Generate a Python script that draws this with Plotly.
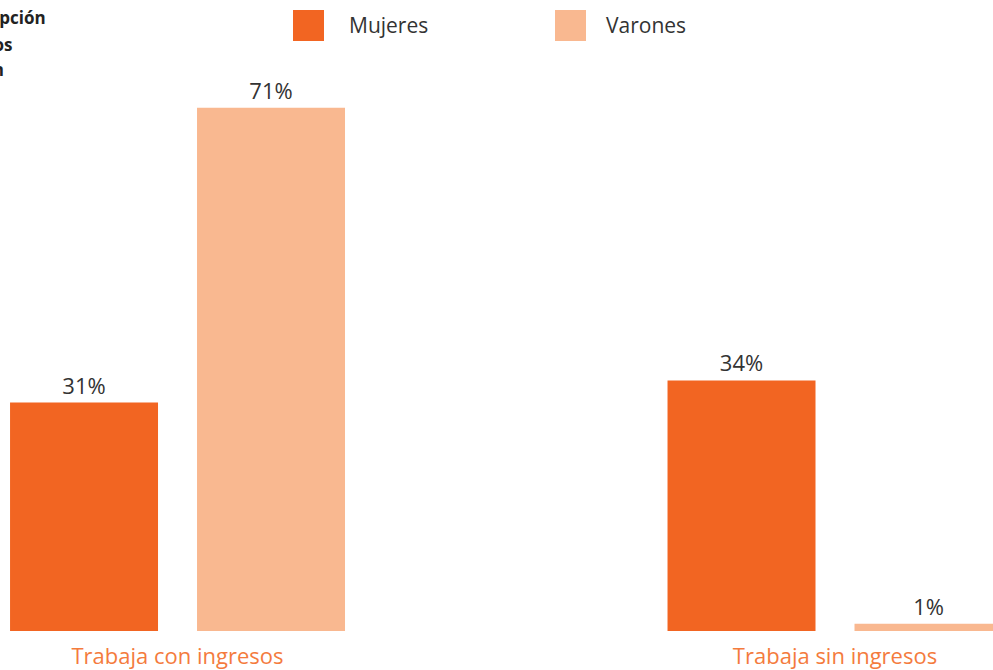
import plotly.graph_objects as go

categories = ["Trabaja con ingresos", "Trabaja sin ingresos"]
mujeres = [31, 34]
varones = [71, 1]
series_names = ["Mujeres", "Varones"]
title_lines = ["Percepción", "de ingresos", "según condición"]

C_MUJ = "#F26522"
C_VAR = "#F9B890"
W, H = 993, 670
MT, MB = 0, 39
PH = H - MT - MB

fig = go.Figure()
for name, vals, col in [(series_names[0], mujeres, C_MUJ), (series_names[1], varones, C_VAR)]:
    fig.add_trace(go.Bar(
        x=categories, y=vals, name=name, marker=dict(color=col, line=dict(width=0)),
        text=[f"{v}%" for v in vals], textposition="outside",
        textfont=dict(family="Open Sans", size=22, color="#333333"),
        cliponaxis=False, showlegend=False,
    ))

fig.update_layout(
    width=W, height=H,
    margin=dict(l=0, r=0, t=MT, b=MB, pad=0),
    paper_bgcolor="white", plot_bgcolor="white",
    barmode="group", bargap=0.4312, bargroupgap=0.2086,
    font=dict(family="Open Sans", color="#333333"),
    showlegend=False,
    xaxis=dict(range=[-0.27, 1.2403], showgrid=False, zeroline=False, showline=False,
               ticks="", tickfont=dict(family="Open Sans", size=22, color="#F47B3D"),
               ticklabelstandoff=10),
    yaxis=dict(range=[0, PH / 7.37], visible=False, showgrid=False, zeroline=False),
)

def px_x(p):
    return p / W

def px_y(p):
    return 1 - (p - MT) / PH

# manual legend
for name, col, x0, tx in [(series_names[0], C_MUJ, 293, 347), (series_names[1], C_VAR, 555, 604)]:
    fig.add_shape(type="rect", xref="paper", yref="paper",
                  x0=px_x(x0), x1=px_x(x0 + 31), y0=px_y(41), y1=px_y(10),
                  fillcolor=col, line=dict(width=0))
    fig.add_annotation(xref="paper", yref="paper", x=px_x(tx), y=px_y(25.5),
                       xanchor="left", yanchor="middle", text=name, showarrow=False,
                       font=dict(family="Open Sans", size=21, color="#333333"))

# truncated title at top-left (cropped in the reference)
for line, right, yc in zip(title_lines, [48, 14, 6], [18, 44, 70]):
    fig.add_annotation(xref="paper", yref="paper", x=px_x(right), y=px_y(yc),
                       xanchor="right", yanchor="middle", text=f"<b>{line}</b>",
                       showarrow=False,
                       font=dict(family="Open Sans", size=17, color="#222222"))

fig.write_html("out.html", config={"displayModeBar": False},
               post_script="document.body.style.margin='0';document.body.style.overflow='hidden';")
